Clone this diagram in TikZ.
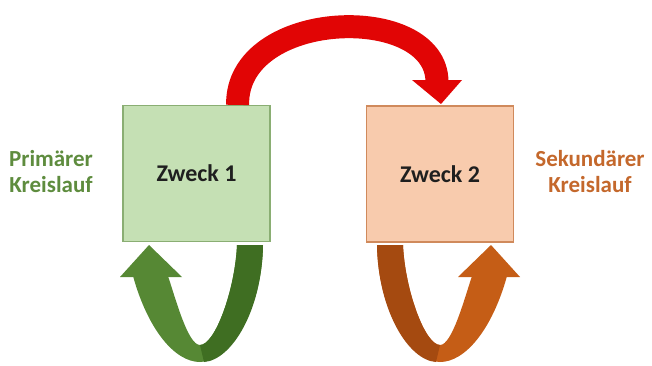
\documentclass[tikz,border=0pt]{standalone}
\usepackage{fontspec}
\setmainfont{Carlito}
\definecolor{boxgreen}{HTML}{C5E0B4}
\definecolor{edgegreen}{HTML}{8AAE73}
\definecolor{boxorange}{HTML}{F8CBAD}
\definecolor{edgeorange}{HTML}{D08A5C}
\definecolor{redarrow}{RGB}{225,5,5}
\definecolor{greenA}{HTML}{568834}
\definecolor{greenB}{HTML}{3F6E22}
\definecolor{orangeA}{HTML}{C55D16}
\definecolor{orangeB}{HTML}{A54A10}
\definecolor{labgreen}{HTML}{5E8C3E}
\definecolor{laborange}{HTML}{C4682C}
\tikzset{
  zbox/.style={draw, line width=1.2pt, minimum width=147pt, minimum height=136pt, inner sep=0pt,
    font=\fontsize{24}{28}\selectfont\bfseries, text=black!88},
  sidelabel/.style={align=center, font=\fontsize{23}{26}\selectfont\bfseries}
}
\begin{document}
\begin{tikzpicture}[x=1pt,y=-1pt]
\useasboundingbox (0,0) rectangle (652,365);
% boxes
\node[zbox, fill=boxgreen, draw=edgegreen] (z1) at (196.5,173.5) {Zweck 1};
\node[zbox, fill=boxorange, draw=edgeorange] (z2) at (440,174) {Zweck 2};
% side labels
\node[sidelabel, text=labgreen] (l1) at (51,172) {Primärer\\Kreislauf};
\node[sidelabel, text=laborange] (l2) at (590,172) {Sekundärer\\Kreislauf};
% red arc arrow
\coordinate (rs) at ([xshift=-33pt]z1.north east);
\coordinate (re) at (437,82);
\draw[redarrow, line width=23pt] (rs) .. controls (236,8) and (437,2) .. (re);
\fill[redarrow] (412,80) -- (462,80) -- (441,104) -- cycle;
% green U arrow
\fill[greenA] (133,276) .. controls (148,330) and (175,362) .. (200,362)
  .. controls (230,362) and (262,310) .. (263,245) -- (237,245)
  .. controls (235,290) and (215,345) .. (200,345)
  .. controls (188,345) and (176,300) .. (168,276) -- cycle;
\fill[greenB] (263,245) -- (237,245) .. controls (235,290) and (215,345) .. (200,345)
  -- (204,362) .. controls (232,360) and (262,310) .. (263,245) -- cycle;
\fill[greenA] (120,277) -- (182,277) -- (149,245) -- cycle;
% orange U arrow (mirror)
\begin{scope}[xshift=640pt, xscale=-1]
\fill[orangeA] (133,276) .. controls (148,330) and (175,362) .. (200,362)
  .. controls (230,362) and (262,310) .. (263,245) -- (237,245)
  .. controls (235,290) and (215,345) .. (200,345)
  .. controls (188,345) and (176,300) .. (168,276) -- cycle;
\fill[orangeB] (263,245) -- (237,245) .. controls (235,290) and (215,345) .. (200,345)
  -- (204,362) .. controls (232,360) and (262,310) .. (263,245) -- cycle;
\fill[orangeA] (120,277) -- (182,277) -- (149,245) -- cycle;
\end{scope}
\end{tikzpicture}
\end{document}
